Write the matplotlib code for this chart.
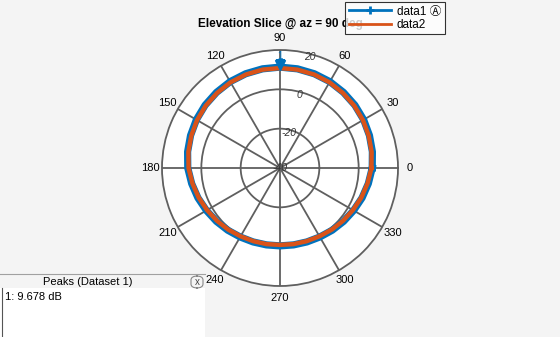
import numpy as np
import matplotlib.pyplot as plt
from matplotlib.lines import Line2D
from matplotlib.patches import Rectangle, FancyBboxPatch

plt.rcParams['font.family'] = ['Liberation Sans', 'DejaVu Sans', 'Noto Sans CJK SC']

# angles (deg) and magnitudes (dB)
ang = list(range(0, 361, 10))
data2 = [6.5, 7.3, 8.0, 8.7, 9.3, 9.8, 10.3, 10.6, 10.8, 10.8,
         10.8, 10.6, 10.3, 9.8, 9.3, 8.7, 8.0, 7.3, 6.5,
         5.2, 4.0, 2.8, 1.8, 0.9, 0.1, -0.4, -0.7, -0.9,
         -0.7, -0.4, 0.1, 0.9, 1.8, 2.8, 4.0, 5.2, 6.5]
data1 = [6.9, 7.7, 8.4, 9.1, 9.7, 10.2, 10.7, 11.0, 11.2, 11.3,
         11.2, 11.0, 10.7, 10.2, 9.7, 9.1, 8.4, 7.7, 6.9,
         5.6, 4.4, 3.2, 2.2, 1.3, 0.5, 0.0, -0.3, -0.4,
         -0.3, 0.0, 0.5, 1.3, 2.2, 3.2, 4.4, 5.6, 6.9]
peak_ang = 90
peak_db = 9.678
rings = [-40, -20, 0, 20]

blue = '#0072BD'
orange = '#D95319'
grid_c = '#5f5f5f'
bg = '#f4f4f4'

fig = plt.figure(figsize=(5.6, 3.37), dpi=100, facecolor=bg)
ax = fig.add_axes([162/560, 51/337, 236/560, 236/337], projection='polar')
ax.set_facecolor('white')
ax.set_rlim(rings[0], rings[-1])
ax.set_rticks(rings[1:-1])
ax.set_yticklabels([])
ax.set_thetagrids(range(0, 360, 30), [str(a) for a in range(0, 360, 30)])
ax.tick_params(axis='x', labelsize=8, pad=-2, colors='black')
ax.grid(True, color=grid_c, linewidth=1.3)
ax.spines['polar'].set_color(grid_c)
ax.spines['polar'].set_linewidth(1.3)

th = np.deg2rad(ang)
ax.plot(th, data1, color=blue, lw=5.2)
ax.plot(th, data2, color=orange, lw=3.2)
ax.plot(np.deg2rad(peak_ang), 12.2, marker='v', color=blue, ms=7, ls='none')
ax.text(np.deg2rad(peak_ang), 17.0, '1', color=blue, fontsize=7,
        ha='center', va='center')

for v in rings:
    rr = v - 1.5 if v > rings[0] else v
    ax.text(np.deg2rad(75), rr, str(v), fontsize=7.5, style='italic',
            color='#333333', ha='center', va='center')

fig.text(0.5, 1 - 24/337, 'Elevation Slice @ az = 90 deg', fontsize=8.5,
         fontweight='bold', ha='center', va='center')

handles = [Line2D([], [], color=blue, lw=2, marker='+', ms=6, mew=2),
           Line2D([], [], color=orange, lw=2)]
leg = fig.legend(handles, ['data1 \u24b6', 'data2'], loc='upper left',
                 bbox_to_anchor=(345/560, 1 - 2/337), borderaxespad=0,
                 fontsize=8.5, frameon=True, fancybox=False, edgecolor='black',
                 handlelength=3.6, handletextpad=0.5, labelspacing=0.1,
                 borderpad=0.3)
leg.get_frame().set_linewidth(0.8)

# peaks panel
W, H = 560, 337
fig.patches.append(Rectangle((0, 0), 205/W, (H - 288)/H, transform=fig.transFigure,
                             facecolor='white', edgecolor='none'))
fig.lines.append(Line2D([0, 205/W], [1 - 274/H, 1 - 274/H],
                        transform=fig.transFigure, color='#a0a0a0', lw=0.8))
fig.lines.append(Line2D([2/W, 2/W], [0, 1 - 288/H],
                        transform=fig.transFigure, color='#555555', lw=0.8))
fig.text(88/W, 1 - 282/H, 'Peaks (Dataset 1)', fontsize=8, ha='center', va='center')
fig.patches.append(FancyBboxPatch((191/W, 1 - 288/H), 12/W, 12/H,
                                  boxstyle='round,pad=0,rounding_size=0.012',
                                  transform=fig.transFigure, facecolor='none',
                                  edgecolor='#888888', lw=0.8))
fig.text(197/W, 1 - 282/H, 'x', fontsize=7, ha='center', va='center', color='#444444')
fig.text(5/W, 1 - 297/H, '1: %.3f dB' % peak_db, fontsize=8, ha='left', va='center')

fig.savefig('out.png', dpi=100, facecolor=bg)
